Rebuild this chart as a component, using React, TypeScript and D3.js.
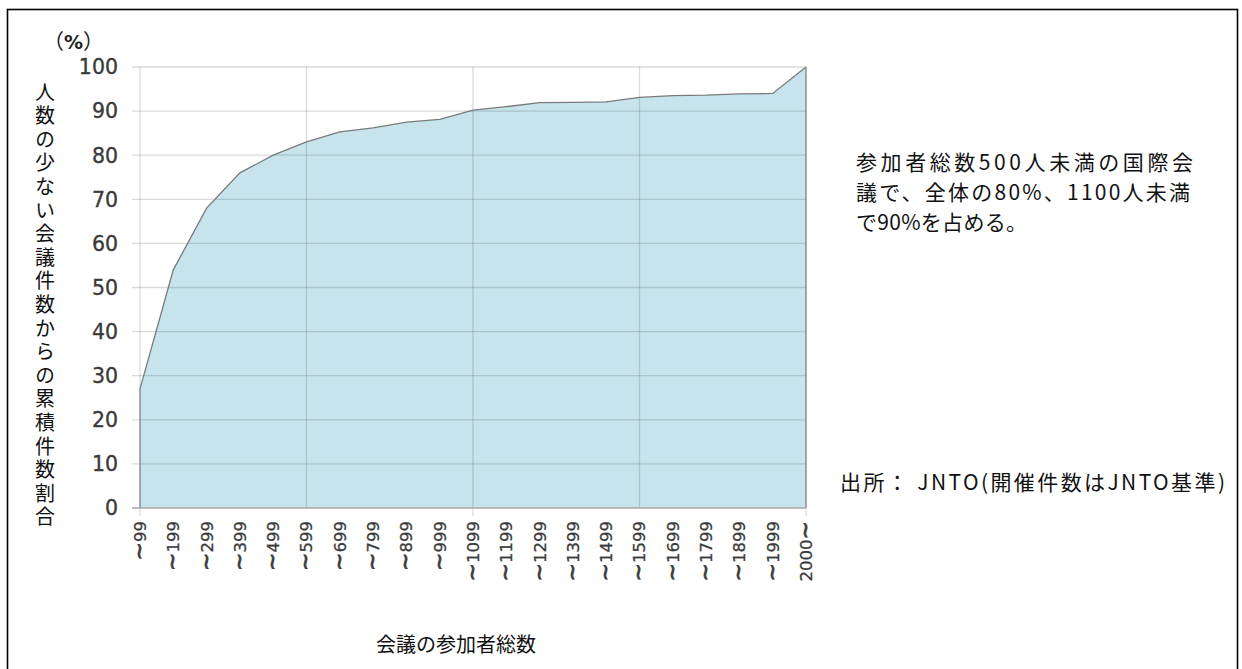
import React from "react";
import * as d3 from "d3";

const categories = ["～99","～199","～299","～399","～499","～599","～699","～799","～899","～999","～1099","～1199","～1299","～1399","～1499","～1599","～1699","～1799","～1899","～1999","2000～"];
const cumulativeShare = [27, 54, 68, 76, 80, 83, 85.3, 86.2, 87.5, 88.1, 90.2, 91, 91.9, 92, 92.1, 93.1, 93.5, 93.6, 93.9, 94, 100];
const yTicks = [0, 10, 20, 30, 40, 50, 60, 70, 80, 90, 100];
const yAxisTitle = "人数の少ない会議件数からの累積件数割合";
const xAxisTitle = "会議の参加者総数";
const noteLines = ["参加者総数500人未満の国際会", "議で、全体の80%、1100人未満", "で90%を占める。"];
const sourceText = "出所： JNTO(開催件数はJNTO基準)";

const W = 1242, H = 669;
const JP = "'Noto Sans CJK JP', 'Noto Sans', sans-serif";
const NUM = "'DejaVu Sans', Verdana, sans-serif";

function renderLabel(c: string) {
  // split the full-width tilde so it is drawn larger, like the reference wave
  const parts = c.split(/(～)/).filter(p => p.length > 0);
  return parts.map((p, i) =>
    p === "～"
      ? <tspan key={i} fontFamily={NUM} fontSize={22} strokeWidth={0.8}>~</tspan>
      : <tspan key={i}>{p}</tspan>
  );
}

export default function App() {
  const x = d3.scalePoint<string>().domain(categories).range([140, 806]);
  const y = d3.scaleLinear().domain([0, 100]).range([508, 67]);
  const data = categories.map((c, i) => ({ c, v: cumulativeShare[i] }));
  const area = d3.area<{ c: string; v: number }>()
    .x(d => x(d.c) as number).y0(y(0)).y1(d => y(d.v));
  const line = d3.line<{ c: string; v: number }>()
    .x(d => x(d.c) as number).y(d => y(d.v));
  const outline = area(data) as string;
  const topLine = line(data) as string;
  const x0 = x(categories[0]) as number;
  const x1 = x(categories[categories.length - 1]) as number;

  return (
    <svg width={W} height={H} style={{ position: "absolute", left: 0, top: 0, background: "#fff" }}>
      <rect x={7.5} y={9.5} width={1230} height={670} fill="#fff" stroke="#000" strokeWidth={1.6} />
      <path d={outline} fill="#c7e3eb" stroke="none" />
      {yTicks.map(t => (
        <line key={"h" + t} x1={132} x2={x1} y1={y(t)} y2={y(t)} stroke="rgba(0,0,0,0.14)" strokeWidth={1.3} />
      ))}
      {categories.map((c, i) => (i % 5 === 0 ? (
        <line key={"v" + c} x1={x(c)} x2={x(c)} y1={y(100)} y2={i % 10 === 0 ? 516 : y(0)} stroke="rgba(0,0,0,0.14)" strokeWidth={1.3} />
      ) : null))}
      <path d={topLine} fill="none" stroke="#7a7a7a" strokeWidth={1.3} />
      <line x1={x0} x2={x0} y1={y(cumulativeShare[0])} y2={y(0)} stroke="#8a8a8a" strokeWidth={1.3} />
      <line x1={x1} x2={x1} y1={y(100)} y2={y(0)} stroke="#8a8a8a" strokeWidth={1.3} />
      <line x1={132} x2={x1} y1={y(0)} y2={y(0)} stroke="#b0b0b0" strokeWidth={1.3} />
      {yTicks.map(t => (
        <text key={"yl" + t} x={118} y={y(t)} dy="0.36em" textAnchor="end" fontFamily={NUM} fontSize={20.5}
          fill="#3a3a3a" stroke="#3a3a3a" strokeWidth={0.35}>{t}</text>
      ))}
      {categories.map(c => (
        <text key={"xl" + c} transform={`translate(${x(c)},521) rotate(-90)`} textAnchor="end" dy="0.36em" fontFamily={NUM} fontSize={16.5}
          fill="#3a3a3a" stroke="#3a3a3a" strokeWidth={0.3}>{renderLabel(c)}</text>
      ))}
      <text x={43} y={42} dy="0.35em" fontFamily={JP} fontSize={21} fill="#222">
        <tspan>（</tspan><tspan fontWeight="bold" fontFamily={NUM} fontSize={19}>%</tspan><tspan>）</tspan>
      </text>
      <text x={45} y={82} fontFamily={JP} fontSize={20} fill="#111" style={{ writingMode: "vertical-rl" as any }} letterSpacing={3.6}>{yAxisTitle}</text>
      <text x={456} y={645} dy="0.35em" textAnchor="middle" fontFamily={JP} fontSize={20} fill="#111">{xAxisTitle}</text>
      {noteLines.map((s, i) => (
        <text key={"n" + i} x={856} y={163 + i * 30} dy="0.35em" fontFamily={JP} fontSize={21} fill="#111"
          textLength={[337, 334, 171][i]} lengthAdjust="spacing">{s}</text>
      ))}
      <text x={840} y={483} dy="0.35em" fontFamily={JP} fontSize={21} fill="#111" textLength={385} lengthAdjust="spacing">{sourceText}</text>
    </svg>
  );
}
